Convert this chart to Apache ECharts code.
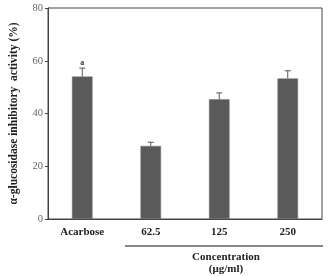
<!DOCTYPE html>
<html>
<head>
<meta charset="utf-8">
<script src="https://cdn.jsdelivr.net/npm/echarts@6/dist/echarts.min.js"></script>
<style>
html,body{margin:0;padding:0;background:#fff;}
#chart{width:328px;height:276px;}
</style>
</head>
<body>
<div id="chart"></div>
<script>
var categories = ['Acarbose', '62.5', '125', '250'];
var activity = [54.0, 27.7, 45.4, 53.3];
var errors = [3.2, 1.4, 2.4, 2.9];
var marks = ['a', '', '', ''];
var yTicks = [0, 20, 40, 60, 80];

var chart = echarts.init(document.getElementById('chart'));
var serif = '"Liberation Serif", "Times New Roman", serif';

var errData = activity.map(function (v, i) { return [i, v, errors[i], marks[i]]; });

var option = {
    animation: false,
    grid: {left: 45, right: 6, top: 8, bottom: 57, show: true, borderColor: '#444', borderWidth: 1},
    xAxis: {
        type: 'category',
        data: categories,
        axisLine: {lineStyle: {color: '#444', width: 1}},
        axisTick: {show: false},
        axisLabel: {color: '#222', fontFamily: serif, fontWeight: 'bold', fontSize: 11, margin: 8}
    },
    yAxis: {
        type: 'value',
        min: yTicks[0],
        max: yTicks[yTicks.length - 1],
        interval: 20,
        splitLine: {show: false},
        axisLine: {show: true, lineStyle: {color: '#444', width: 1}},
        axisTick: {show: true, inside: false, length: 3, lineStyle: {color: '#444'}},
        axisLabel: {color: '#666', fontFamily: serif, fontSize: 10.5, margin: 5},
        name: 'α-glucosidase inhibitory  activity (%)',
        nameLocation: 'middle',
        nameGap: 28,
        nameTextStyle: {color: '#222', fontFamily: serif, fontWeight: 'bold', fontSize: 11.5}
    },
    series: [{
        type: 'bar',
        data: activity,
        barWidth: '30%',
        itemStyle: {color: '#5a5a5a', borderColor: '#777', borderWidth: 0.5}
    }, {
        type: 'custom',
        data: errData,
        z: 5,
        renderItem: function (params, api) {
            var i = api.value(0), v = api.value(1), e = api.value(2);
            var base = api.coord([i, v]);
            var top = api.coord([i, v + e]);
            var children = [
                {type: 'line', shape: {x1: base[0], y1: base[1], x2: top[0], y2: top[1]}, style: {stroke: '#555', lineWidth: 1}},
                {type: 'line', shape: {x1: top[0] - 3, y1: top[1], x2: top[0] + 3, y2: top[1]}, style: {stroke: '#555', lineWidth: 1}}
            ];
            var m = marks[params.dataIndex];
            if (m) {
                children.push({type: 'text', style: {text: m, x: top[0], y: top[1] - 1, align: 'center', verticalAlign: 'bottom', fill: '#333', font: 'bold 8px ' + serif}});
            }
            return {type: 'group', children: children};
        }
    }],
    graphic: [
        {type: 'line', shape: {x1: 125, y1: 246, x2: 323, y2: 246}, style: {stroke: '#111', lineWidth: 1}},
        {type: 'text', style: {text: 'Concentration', x: 226, y: 257, align: 'center', verticalAlign: 'middle', fill: '#222', font: 'bold 11px ' + serif}},
        {type: 'text', style: {text: '(μg/ml)', x: 226, y: 269, align: 'center', verticalAlign: 'middle', fill: '#222', font: 'bold 11px ' + serif}}
    ]
};
chart.setOption(option);
</script>
</body>
</html>
